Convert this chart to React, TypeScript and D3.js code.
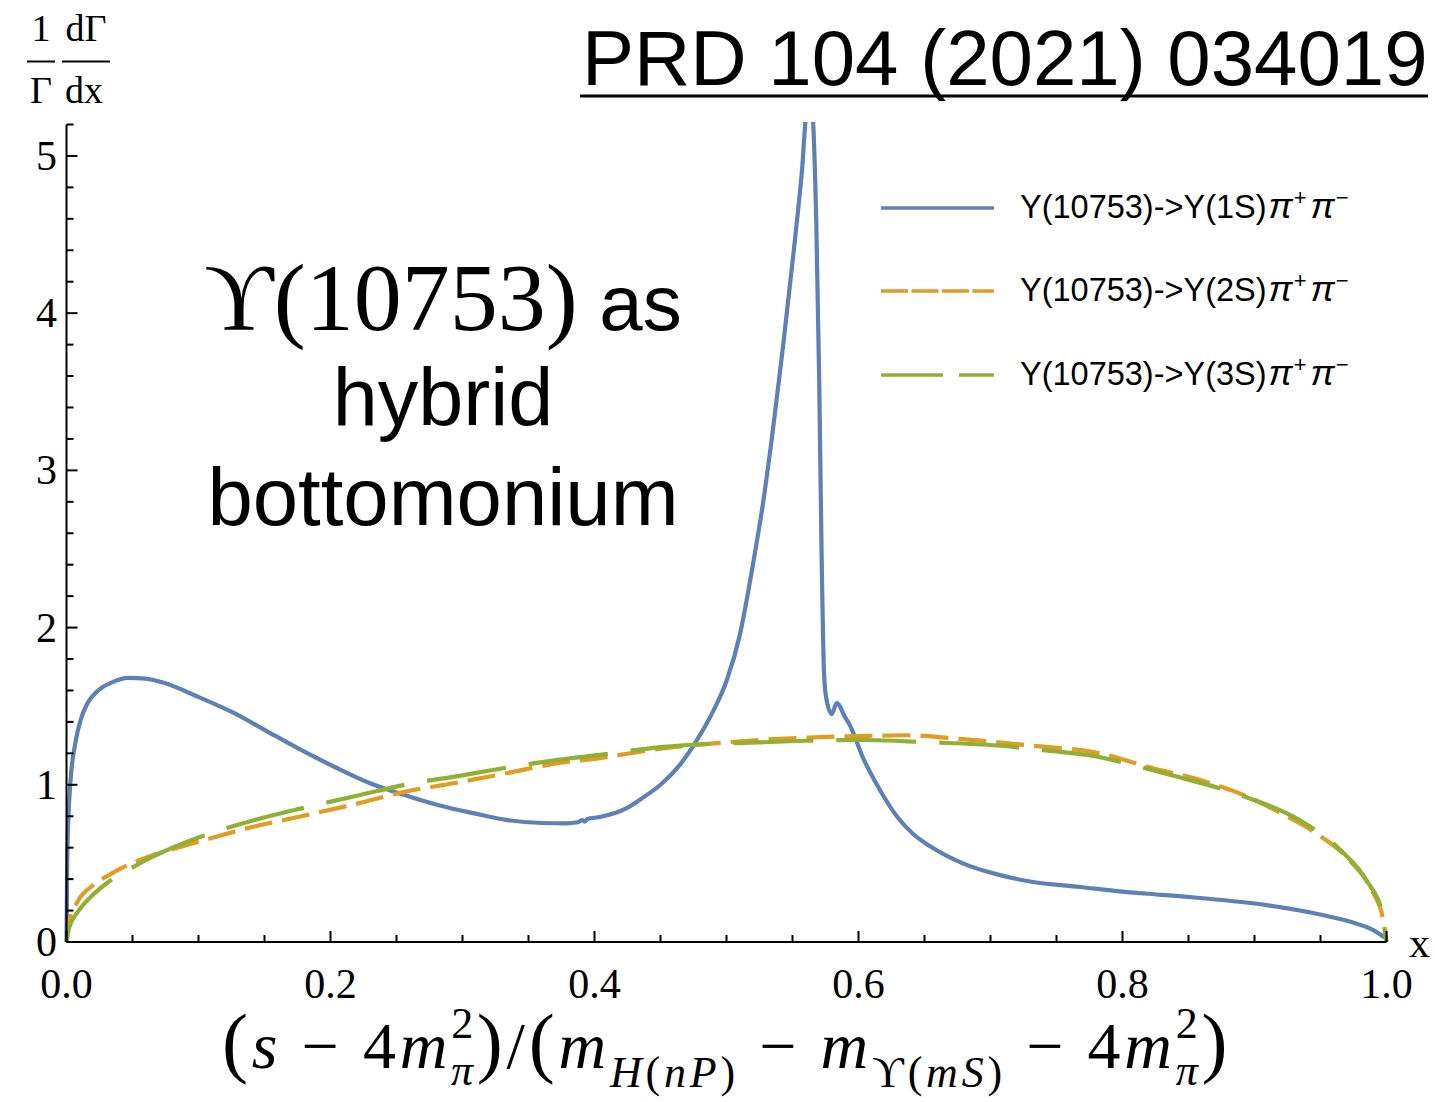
import React from "react";
import * as d3 from "d3";

// Differential decay widths, normalised, vs. reduced dipion invariant mass x
const x1S = [0, 0.0005, 0.0015, 0.0029, 0.0068, 0.011, 0.016, 0.024, 0.034, 0.047, 0.06, 0.073, 0.0996, 0.126, 0.152, 0.178, 0.204, 0.23, 0.256, 0.282, 0.308, 0.334, 0.36, 0.378, 0.3875, 0.3905, 0.3925, 0.3945, 0.404, 0.424, 0.437, 0.45, 0.465, 0.478, 0.49, 0.5, 0.51, 0.52, 0.528, 0.5355, 0.543, 0.5506, 0.557, 0.5612, 0.5645, 0.568, 0.5703, 0.572, 0.5739, 0.5754, 0.5797, 0.5835, 0.5898, 0.594, 0.603, 0.616, 0.629, 0.641, 0.654, 0.679, 0.705, 0.73, 0.768, 0.8, 0.83, 0.859, 0.909, 0.947, 0.972, 0.99, 1.0];
const y1S = [0, 0.5, 0.8, 1.01, 1.27, 1.42, 1.52, 1.6, 1.65, 1.68, 1.675, 1.65, 1.56, 1.46, 1.34, 1.22, 1.11, 1.01, 0.935, 0.87, 0.82, 0.775, 0.757, 0.755, 0.762, 0.776, 0.765, 0.782, 0.795, 0.85, 0.92, 1.0, 1.13, 1.29, 1.47, 1.66, 1.95, 2.4, 2.81, 3.28, 3.8, 4.37, 4.89, 5.3, 5.3, 4.58, 3.54, 2.49, 1.71, 1.56, 1.45, 1.52, 1.43, 1.37, 1.18, 0.97, 0.8, 0.69, 0.61, 0.5, 0.43, 0.385, 0.35, 0.32, 0.3, 0.28, 0.235, 0.18, 0.13, 0.075, 0.02];

const x2S = [0, 0.002, 0.008, 0.02, 0.033, 0.055, 0.08, 0.105, 0.14, 0.178, 0.22, 0.256, 0.3, 0.334, 0.374, 0.404, 0.45, 0.5, 0.525, 0.56, 0.601, 0.637, 0.679, 0.73, 0.783, 0.821, 0.859, 0.896, 0.922, 0.947, 0.972, 0.99, 0.997, 1.0];
const y2S = [0, 0.12, 0.25, 0.36, 0.43, 0.52, 0.59, 0.65, 0.73, 0.8, 0.88, 0.955, 1.02, 1.075, 1.14, 1.17, 1.23, 1.27, 1.285, 1.3, 1.31, 1.315, 1.29, 1.25, 1.2, 1.11, 1.03, 0.92, 0.81, 0.69, 0.52, 0.31, 0.16, 0];

const x3S = [0, 0.002, 0.008, 0.02, 0.033, 0.045, 0.06, 0.105, 0.14, 0.178, 0.22, 0.256, 0.3, 0.334, 0.374, 0.404, 0.45, 0.525, 0.56, 0.603, 0.654, 0.705, 0.74, 0.78, 0.806, 0.833, 0.889, 0.934, 0.965, 0.985, 0.997, 1.0];
const y3S = [0, 0.09, 0.185, 0.3, 0.39, 0.45, 0.52, 0.68, 0.77, 0.85, 0.93, 1.0, 1.06, 1.11, 1.16, 1.19, 1.24, 1.27, 1.28, 1.285, 1.27, 1.25, 1.22, 1.18, 1.13, 1.07, 0.935, 0.776, 0.585, 0.39, 0.18, 0];

const seriesNames = ["1S", "2S", "3S"];
const seriesColors = ["#5e81b5", "#e19c24", "#8fb032"];
const plotDash = [null, "28,10", "80,23"];
const legendDash = [null, "27,3.5", "62,16"];

const xMajorTicks = [0, 0.2, 0.4, 0.6, 0.8, 1.0];
const yMajorTicks = [0, 1, 2, 3, 4, 5];

const W = 1435;
const H = 1102;

export default function App() {
  const x = d3.scaleLinear().domain([0, 1]).range([66.5, 1386.5]);
  const y = d3.scaleLinear().domain([0, 5.2]).range([942, 124.5]);

  const line = d3
    .line<[number, number]>()
    .x((d) => x(d[0]))
    .y((d) => y(d[1]))
    .curve(d3.curveMonotoneX);

  const data: [number, number][][] = [
    x1S.map((v, i) => [v, y1S[i]] as [number, number]),
    x2S.map((v, i) => [v, y2S[i]] as [number, number]),
    x3S.map((v, i) => [v, y3S[i]] as [number, number]),
  ];

  const xMinor = d3.range(0, 1.0001, 0.05).filter((t) => !xMajorTicks.some((m) => Math.abs(m - t) < 1e-6));
  const yMinor = d3.range(0, 5.2001, 0.2).filter((t) => !yMajorTicks.some((m) => Math.abs(m - t) < 1e-6));
  const fmt = d3.format(".1f");

  const serif = "'Liberation Serif', 'Times New Roman', serif";
  const sans = "'Liberation Sans', Arial, sans-serif";
  const axisColor = "#000";

  const legendY = [208, 291, 375];

  return (
    <svg
      width={W}
      height={H}
      viewBox={`0 0 ${W} ${H}`}
      style={{ position: "absolute", left: 0, top: 0, background: "#fff" }}
    >
      <defs>
        <clipPath id="plotClip">
          <rect x={x(0) - 4} y={122} width={x(1) - x(0) + 8} height={942 - 122 + 6} />
        </clipPath>
      </defs>
      <rect x={0} y={0} width={W} height={H} fill="#fff" />

      {/* curves */}
      <g clipPath="url(#plotClip)">
        {data.map((d, i) => (
          <path
            key={seriesNames[i]}
            d={line(d) || ""}
            fill="none"
            stroke={seriesColors[i]}
            strokeWidth={4.2}
            strokeDasharray={plotDash[i] || undefined}
            strokeLinejoin="round"
          />
        ))}
      </g>

      {/* axes */}
      <g stroke={axisColor} strokeWidth={2}>
        <line x1={x(0)} x2={x(0)} y1={y(5.2)} y2={y(0)} />
        <line x1={x(0)} x2={x(1)} y1={y(0)} y2={y(0)} />
        {xMajorTicks.map((t) => (
          <line key={"xM" + t} x1={x(t)} x2={x(t)} y1={y(0)} y2={y(0) - 11} />
        ))}
        {xMinor.map((t) => (
          <line key={"xm" + t} x1={x(t)} x2={x(t)} y1={y(0)} y2={y(0) - 7} />
        ))}
        {yMajorTicks.map((t) => (
          <line key={"yM" + t} x1={x(0)} x2={x(0) + 11} y1={y(t)} y2={y(t)} />
        ))}
        {yMinor.map((t) => (
          <line key={"ym" + t} x1={x(0)} x2={x(0) + 7} y1={y(t)} y2={y(t)} />
        ))}
      </g>

      <g fontFamily={serif} fontSize={42} fill="#000">
        {xMajorTicks.map((t) => (
          <text key={"xl" + t} x={x(t)} y={998} textAnchor="middle">
            {fmt(t)}
          </text>
        ))}
        {yMajorTicks.map((t) => (
          <text key={"yl" + t} x={57} y={y(t) + 14} textAnchor="end">
            {t}
          </text>
        ))}
        <text x={1409} y={957}>x</text>
      </g>

      {/* y-axis label: (1/Γ) dΓ/dx */}
      <g fontFamily={serif} fontSize={38} fill="#000">
        <text x={41} y={41} textAnchor="middle">1</text>
        <text x={41} y={103} textAnchor="middle">Γ</text>
        <text x={86} y={41} textAnchor="middle">dΓ</text>
        <text x={84} y={103} textAnchor="middle">dx</text>
        <line x1={27} x2={55} y1={61.5} y2={61.5} stroke="#000" strokeWidth={2} />
        <line x1={62} x2={110} y1={61.5} y2={61.5} stroke="#000" strokeWidth={2} />
      </g>

      {/* x-axis label */}
      <text x={222} y={1068} fontFamily={serif} fontSize={66} fill="#000" letterSpacing={3.8}>
        <tspan fontSize={78}>(</tspan>
        <tspan fontStyle="italic">s</tspan>
        <tspan>{"  −  4"}</tspan>
        <tspan fontStyle="italic">m</tspan>
        <tspan fontSize={44} dy={-30}>2</tspan>
        <tspan fontSize={44} fontStyle="italic" dx={-26} dy={47}>π</tspan>
        <tspan fontSize={78} dy={-17}>)</tspan>
        <tspan>/</tspan>
        <tspan fontSize={78}>(</tspan>
        <tspan fontStyle="italic">m</tspan>
        <tspan fontSize={44} fontStyle="italic" dy={19}>H</tspan>
        <tspan fontSize={44}>(</tspan>
        <tspan fontSize={44} fontStyle="italic">nP</tspan>
        <tspan fontSize={44}>)</tspan>
        <tspan dy={-19}>{"  −  "}</tspan>
        <tspan fontStyle="italic">m</tspan>
        <tspan fontSize={44} dy={19}>ϒ(</tspan>
        <tspan fontSize={44} fontStyle="italic">mS</tspan>
        <tspan fontSize={44}>)</tspan>
        <tspan dy={-19}>{"  −  4"}</tspan>
        <tspan fontStyle="italic">m</tspan>
        <tspan fontSize={44} dy={-30}>2</tspan>
        <tspan fontSize={44} fontStyle="italic" dx={-26} dy={47}>π</tspan>
        <tspan fontSize={78} dy={-17}>)</tspan>
      </text>

      {/* reference tag */}
      <text x={582} y={85} fontFamily={sans} fontSize={78} fill="#000">
        PRD 104 (2021) 034019
      </text>
      <line x1={580} x2={1428} y1={96} y2={96} stroke="#000" strokeWidth={3} />

      {/* annotation */}
      <text x={443} y={330} textAnchor="middle" fill="#000">
        <tspan fontFamily={serif} fontSize={96}>ϒ(10753)</tspan>
        <tspan fontFamily={sans} fontSize={78}> as</tspan>
      </text>
      <text x={443} y={425} textAnchor="middle" fontFamily={sans} fontSize={81} fill="#000">
        hybrid
      </text>
      <text x={443} y={525} textAnchor="middle" fontFamily={sans} fontSize={81.5} fill="#000">
        bottomonium
      </text>

      {/* legend */}
      {seriesNames.map((name, i) => (
        <g key={"lg" + name}>
          <line
            x1={881}
            x2={994}
            y1={legendY[i]}
            y2={legendY[i]}
            stroke={seriesColors[i]}
            strokeWidth={3.5}
            strokeDasharray={legendDash[i] || undefined}
          />
          <text x={1020} y={legendY[i] + 10} fontFamily={sans} fontSize={32.5} fill="#000">
            <tspan>{`Y(10753)->Y(${name})`}</tspan>
            <tspan fontStyle="italic" fontSize={36} dx={2}>π</tspan>
            <tspan fontSize={22} dy={-13} dx={1}>+</tspan>
            <tspan fontStyle="italic" fontSize={36} dy={13} dx={4}>π</tspan>
            <tspan fontSize={22} dy={-13} dx={1}>−</tspan>
          </text>
        </g>
      ))}
    </svg>
  );
}
